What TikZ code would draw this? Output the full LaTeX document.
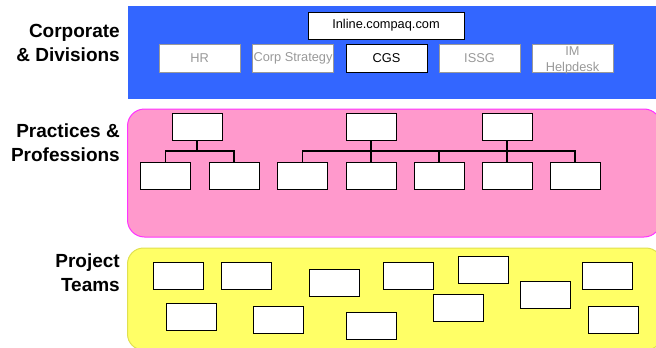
\documentclass[tikz,border=0pt]{standalone}
\usepackage{fontspec}
\setmainfont{Liberation Sans}
\definecolor{corpblue}{HTML}{3366FF}
\definecolor{pinkfill}{HTML}{FF99CC}
\definecolor{pinkline}{HTML}{FF33FF}
\definecolor{yelfill}{HTML}{FFFF66}
\definecolor{yelline}{HTML}{E0E050}
\definecolor{dimgray}{HTML}{999999}
\begin{document}
\begin{tikzpicture}[x=1pt,y=-1pt,
  layerlabel/.style={anchor=east,align=right,font=\bfseries\fontsize{19}{24.5}\selectfont,inner sep=0pt},
  whitebox/.style={draw=black,fill=white,line width=1pt,inner sep=0pt,minimum width=50pt,minimum height=27pt},
  topbox/.style={draw=black,fill=white,line width=1pt,inner sep=0pt,minimum width=156pt,minimum height=27pt,font=\fontsize{12.8}{14}\selectfont},
  divbox/.style={draw=dimgray,fill=white,text=dimgray,line width=1pt,inner sep=0pt,minimum width=81pt,minimum height=28pt,align=center,font=\fontsize{12.8}{16}\selectfont},
  activebox/.style={divbox,draw=black,text=black},
  divtext/.style={text=dimgray,inner sep=0pt,align=center,font=\fontsize{12.8}{16}\selectfont},
  orgline/.style={draw=black,line width=1.3pt},
  stemline/.style={draw=black,line width=2pt}
]
\useasboundingbox (0,0) rectangle (656,348);
\begin{scope}
\clip (0,0) rectangle (656,348);
% layers
\fill[corpblue] (127.5,6) rectangle (670,99);
\draw[pinkline,fill=pinkfill,line width=1pt,rounded corners=17pt] (127.5,109) rectangle (661,237);
\draw[yelline,fill=yelfill,line width=1pt,rounded corners=16pt] (127.5,248) rectangle (662,350);
\end{scope}

% layer labels
\node[layerlabel] (lcorp) at (120,43) {Corporate\\\& Divisions};
\node[layerlabel] (lprac) at (120,142.5) {Practices \&\\Professions};
\node[layerlabel] (lproj) at (120,272.5) {Project\\Teams};

% corporate
\node[topbox] (inline) at (386,25.5) {Inline.compaq.com};
\node[divbox] (hr) at (199.5,58) {HR};
\node[divbox] (corpstr) at (293,58) {Corp Strategy};
\node[activebox] (cgs) at (386.5,58) {CGS};
\node[divbox] (issg) at (479.5,58) {ISSG};
\node[divbox] (imh) at (572.5,58) {};
\node[divtext] (imhtext) at ([yshift=-2.5pt]imh.center) {IM\\Helpdesk};

% practices
\node[whitebox] (pa) at (197,126.5) {};
\node[whitebox] (pb) at (371,126.5) {};
\node[whitebox] (pc) at (507,126.5) {};
\node[whitebox] (c1) at (165.5,175.5) {};
\node[whitebox] (c2) at (234,175.5) {};
\node[whitebox] (c3) at (302.5,175.5) {};
\node[whitebox] (c4) at (371,175.5) {};
\node[whitebox] (c5) at (439,175.5) {};
\node[whitebox] (c6) at (507,175.5) {};
\node[whitebox] (c7) at (575,175.5) {};
\coordinate (bus) at (0,151);

\draw[stemline] (pa.south) -- (pa.south |- bus);
\draw[orgline] (c1.north) -- (c1.north |- bus) -- (c2.north |- bus) -- (c2.north);
\draw[stemline] (pb.south) -- (pb.south |- bus);
\draw[stemline] (pc.south) -- (pc.south |- bus);
\draw[orgline] (c3.north) -- (c3.north |- bus) -- (c7.north |- bus) -- (c7.north);
\draw[orgline] (c4.north) -- (c4.north |- bus);
\draw[orgline] (c5.north) -- (c5.north |- bus);
\draw[orgline] (c6.north) -- (c6.north |- bus);

% project teams
\node[whitebox] (t1) at (178.5,276) {};
\node[whitebox] (t2) at (246.5,276) {};
\node[whitebox] (t3) at (334.5,282.5) {};
\node[whitebox] (t4) at (408,276) {};
\node[whitebox] (t5) at (483,270) {};
\node[whitebox] (t6) at (607.5,276) {};
\node[whitebox] (t7) at (191,317) {};
\node[whitebox] (t8) at (278,319.5) {};
\node[whitebox] (t9) at (371,325.5) {};
\node[whitebox] (t10) at (458,307.5) {};
\node[whitebox] (t11) at (545,295) {};
\node[whitebox] (t12) at (613,319.5) {};
\end{tikzpicture}
\end{document}
